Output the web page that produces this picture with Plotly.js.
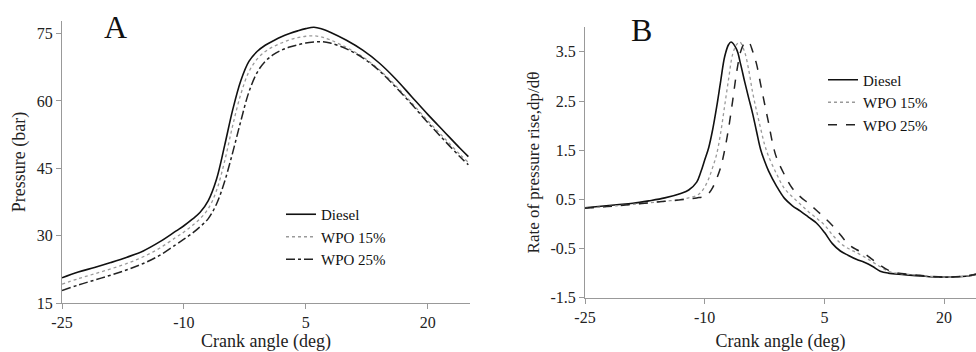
<!DOCTYPE html>
<html>
<head>
<meta charset="utf-8">
<script src="https://cdn.plot.ly/plotly-3.0.1.min.js"></script>
<style>html,body{margin:0;padding:0;background:#fff;}#chart{width:976px;height:352px;}</style>
</head>
<body>
<div id="chart"></div>
<script>
// ---------- Panel A: cylinder pressure (bar) ----------
const angleA = [-25,-23,-21,-19,-17,-15,-13,-11,-10,-9,-8,-7,-6,-5,-4,-3,-2,-1,0,1,2,3,4,5,6,7,8,10,12,14,16,18,20,22,24,25];
const pressureDiesel = [20.6,21.9,22.9,24.0,25.2,26.6,28.6,31.0,32.2,33.6,35.2,37.8,42.5,50.0,58.0,64.5,68.8,71.0,72.4,73.4,74.3,75.0,75.6,76.1,76.4,76.0,75.3,73.5,71.3,68.5,65.0,61.0,57.0,53.2,49.4,47.6];
const pressureWPO15 = [19.2,20.4,21.5,22.6,23.8,25.3,27.2,29.6,30.8,32.2,33.8,36.0,40.0,46.5,54.5,61.5,66.5,69.3,71.0,72.1,72.9,73.6,74.1,74.4,74.5,74.2,73.6,71.9,69.8,67.0,63.5,59.6,55.6,51.8,48.0,46.3];
const pressureWPO25 = [17.8,19.0,20.1,21.2,22.4,23.8,25.6,28.0,29.2,30.5,32.0,33.8,37.0,42.0,48.5,55.5,62.0,66.3,68.8,70.3,71.3,72.0,72.5,72.9,73.1,73.2,72.9,71.6,69.6,66.8,63.2,59.3,55.2,51.3,47.5,45.8];

// ---------- Panel B: rate of pressure rise ----------
const angleBDiesel = [-25,-23,-21,-19,-17,-15,-13,-12,-11,-10.5,-10,-9.5,-9,-8.5,-8,-7.5,-7,-6.7,-6,-5.5,-5,-4.5,-4,-3.5,-3,-2.5,-2,-1,0,1,2,3,4,5,6,7,8,9,10,11,12,13,15,17,19,21,23,24];
const rateDiesel = [0.33,0.36,0.39,0.42,0.47,0.53,0.62,0.69,0.85,1.05,1.30,1.55,1.92,2.38,2.90,3.40,3.65,3.70,3.55,3.25,2.90,2.57,2.25,1.88,1.52,1.28,1.08,0.77,0.52,0.37,0.26,0.14,0.02,-0.17,-0.40,-0.55,-0.64,-0.72,-0.78,-0.86,-0.96,-1.00,-1.03,-1.06,-1.08,-1.08,-1.06,-1.02];
const angleBWPO15 = [-25,-21,-17,-15,-13,-12,-11,-10.5,-10,-9.5,-9,-8.5,-8,-7.5,-7,-6.5,-6,-5.6,-5,-4.5,-4,-3.5,-3,-2.5,-2,-1,0,1,2,3,4,5,6,7,8,9,10,11,12,13,14,16,18,20,22,24];
const rateWPO15 = [0.32,0.37,0.43,0.46,0.50,0.53,0.58,0.64,0.75,0.92,1.15,1.42,1.85,2.40,2.95,3.45,3.65,3.70,3.50,3.15,2.68,2.30,1.95,1.62,1.38,1.02,0.72,0.55,0.40,0.25,0.12,-0.02,-0.22,-0.39,-0.50,-0.58,-0.67,-0.77,-0.87,-0.96,-1.00,-1.03,-1.06,-1.08,-1.07,-1.03];
const angleBWPO25 = [-25,-21,-17,-15,-13,-12,-11,-10,-9.5,-9,-8.5,-8,-7.5,-7,-6.5,-6,-5.5,-5,-4.5,-4,-3.5,-3,-2.5,-2,-1.5,-1,0,1,2,3,4,5,6,7,8,9,10,11,12,13,14,16,18,20,22,24];
const rateWPO25 = [0.32,0.37,0.43,0.46,0.49,0.51,0.53,0.56,0.62,0.74,0.92,1.15,1.50,1.95,2.50,3.08,3.50,3.68,3.70,3.52,3.25,2.85,2.45,2.06,1.65,1.35,1.00,0.72,0.55,0.42,0.28,0.13,-0.03,-0.22,-0.41,-0.52,-0.60,-0.72,-0.84,-0.94,-0.99,-1.03,-1.06,-1.08,-1.07,-1.03];

const seriesNames = ['Diesel','WPO 15%','WPO 25%'];
const xTickVals = [-25,-10,5,20];
const xTickText = ['-25','-10','5','20'];
const yTickValsA = [15,30,45,60,75];
const yTickValsB = [-1.5,-0.5,0.5,1.5,2.5,3.5];
const yTickTextB = ['-1.5','-0.5','0.5','1.5','2.5','3.5'];

const FONT = 'Liberation Serif';
const traces = [
  {x: angleA, y: pressureDiesel, name: seriesNames[0], xaxis:'x', yaxis:'y', legend:'legend', mode:'lines', line:{color:'#111', width:1.6, shape:'spline'}},
  {x: angleA, y: pressureWPO15, name: seriesNames[1], xaxis:'x', yaxis:'y', legend:'legend', mode:'lines', line:{color:'#9a9a9a', width:1.3, dash:'dot', shape:'spline'}},
  {x: angleA, y: pressureWPO25, name: seriesNames[2], xaxis:'x', yaxis:'y', legend:'legend', mode:'lines', line:{color:'#222', width:1.5, dash:'dashdot', shape:'spline'}},
  {x: angleBDiesel, y: rateDiesel, name: seriesNames[0], xaxis:'x2', yaxis:'y2', legend:'legend2', mode:'lines', line:{color:'#111', width:1.6, shape:'spline'}},
  {x: angleBWPO15, y: rateWPO15, name: seriesNames[1], xaxis:'x2', yaxis:'y2', legend:'legend2', mode:'lines', line:{color:'#9a9a9a', width:1.3, dash:'dot', shape:'spline'}},
  {x: angleBWPO25, y: rateWPO25, name: seriesNames[2], xaxis:'x2', yaxis:'y2', legend:'legend2', mode:'lines', line:{color:'#222', width:1.5, dash:'dash', shape:'spline'}}
];

const axisBase = {
  showline:true, linecolor:'#999', linewidth:1, showgrid:false, zeroline:false,
  ticks:'outside', ticklen:5, tickcolor:'#999', tickwidth:1,
  tickfont:{family:FONT, size:16, color:'#222'}, automargin:false, fixedrange:true
};

const layout = {
  width:976, height:352, margin:{l:0,r:0,t:0,b:0},
  paper_bgcolor:'#fff', plot_bgcolor:'#fff',
  font:{family:FONT, color:'#222'},
  xaxis: Object.assign({}, axisBase, {domain:[62/976, 470/976], range:[-25,25.2], tickvals:xTickVals, ticktext:xTickText, anchor:'y',
    title:{text:'Crank angle (deg)', font:{family:FONT, size:18, color:'#222'}, standoff:8}}),
  yaxis: Object.assign({}, axisBase, {domain:[1-303/352, 1-21/352], range:[15,77.8], tickvals:yTickValsA, anchor:'x',
    title:{text:'Pressure (bar)', font:{family:FONT, size:18, color:'#222'}, standoff:6}}),
  xaxis2: Object.assign({}, axisBase, {domain:[585/976, 1], range:[-25,24], tickvals:xTickVals, ticktext:xTickText, anchor:'y2',
    title:{text:'Crank angle (deg)', font:{family:FONT, size:18, color:'#222'}, standoff:10}}),
  yaxis2: Object.assign({}, axisBase, {domain:[1-297.7/352, 1-27.3/352], range:[-1.5,4.0], tickvals:yTickValsB, ticktext:yTickTextB, anchor:'x2',
    title:{text:'Rate of pressure rise,dp/dθ', font:{family:FONT, size:17, color:'#222'}, standoff:6}}),
  legend:{x:281/976, y:1-198/352, xanchor:'left', yanchor:'top', bgcolor:'rgba(0,0,0,0)', font:{family:FONT, size:15, color:'#111'}, tracegroupgap:0, itemwidth:30},
  legend2:{x:823/976, y:1-63.5/352, xanchor:'left', yanchor:'top', bgcolor:'rgba(0,0,0,0)', font:{family:FONT, size:15, color:'#111'}, tracegroupgap:0, itemwidth:30},
  showlegend:true,
  annotations:[
    {text:'A', xref:'paper', yref:'paper', x:115/976, y:1-27/352, xanchor:'center', yanchor:'middle', showarrow:false, font:{family:FONT, size:32, color:'#111'}},
    {text:'B', xref:'paper', yref:'paper', x:641/976, y:1-30/352, xanchor:'center', yanchor:'middle', showarrow:false, font:{family:FONT, size:32, color:'#111'}}
  ]
};

Plotly.newPlot('chart', traces, layout, {displayModeBar:false, staticPlot:true});
</script>
</body>
</html>
